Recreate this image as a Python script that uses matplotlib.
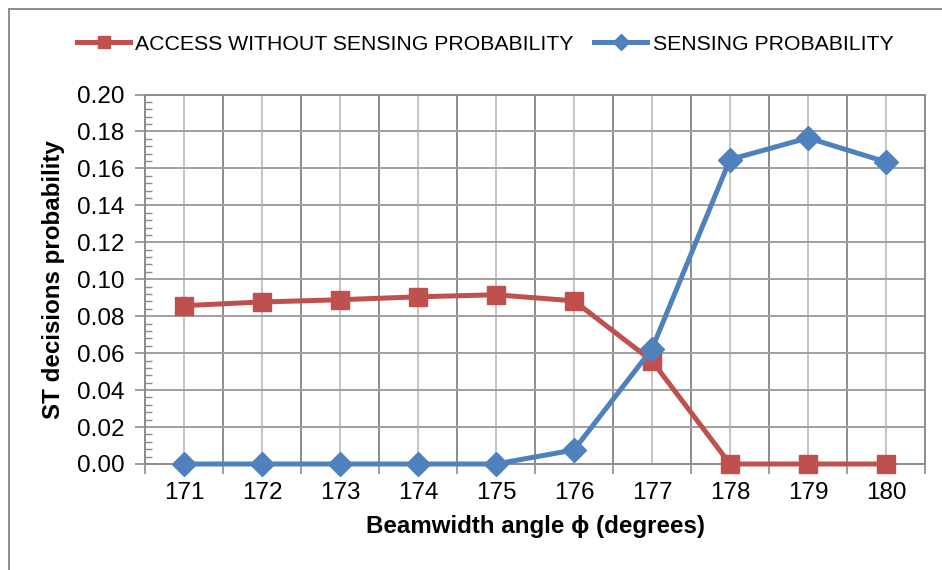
import matplotlib
matplotlib.use("Agg")
import matplotlib.pyplot as plt
from matplotlib.lines import Line2D
from matplotlib.ticker import MultipleLocator, FixedLocator

plt.rcParams["font.family"] = ["Liberation Sans", "DejaVu Sans"]

angles = ["171", "172", "173", "174", "175", "176", "177", "178", "179", "180"]
access_without_sensing = [0.0857, 0.0877, 0.0889, 0.0905, 0.0916, 0.0883, 0.0558, 0.0, 0.0, 0.0]
sensing = [0.0, 0.0, 0.0, 0.0, 0.0, 0.0076, 0.0623, 0.1648, 0.1765, 0.1635]

RED = "#C0504D"
BLUE = "#4F81BD"
GRID_DARK = "#8C8C8C"
GRID_LIGHT = "#C4C4C4"

fig = plt.figure(figsize=(9.42, 5.70), dpi=100)
ax = fig.add_axes([145 / 942, 1 - 464 / 570, 780 / 942, (464 - 94.5) / 570])

x = list(range(len(angles)))
ax.plot(x, access_without_sensing, color=RED, linewidth=3.6, marker="s", markersize=13,
        markeredgecolor=RED, label="ACCESS WITHOUT SENSING PROBABILITY", zorder=3, clip_on=False)
ax.plot(x, sensing, color=BLUE, linewidth=3.6, marker="D", markersize=12,
        markeredgecolor=BLUE, label="SENSING PROBABILITY", zorder=4, clip_on=False)

ax.set_xlim(-0.5, len(angles) - 0.5)
ax.set_ylim(0, 0.20)

# category labels in the middle, dark boundaries between categories
ax.set_xticks(x)
ax.set_xticklabels(angles, fontsize=17.5)
ax.xaxis.set_minor_locator(FixedLocator([i - 0.5 for i in range(len(angles) + 1)]))
ax.tick_params(axis="x", which="major", length=0, pad=13)
ax.tick_params(axis="x", which="minor", length=7, width=1.2, color=GRID_DARK, direction="out")
ax.grid(axis="x", which="major", color=GRID_LIGHT, linewidth=1.4)
ax.grid(axis="x", which="minor", color=GRID_DARK, linewidth=1.4)

ax.yaxis.set_major_locator(MultipleLocator(0.02))
ax.yaxis.set_minor_locator(MultipleLocator(0.004))
ax.yaxis.set_major_formatter(lambda v, p: f"{v:.2f}")
ax.tick_params(axis="y", which="major", length=7, width=1.2, color=GRID_DARK, direction="out",
               labelsize=17.5, pad=8)
ax.tick_params(axis="y", which="minor", length=5, width=1.0, color=GRID_DARK, direction="in")
ax.grid(axis="y", which="major", color="#A0A0A0", linewidth=1.4)
ax.set_axisbelow(True)

for side in ["left", "bottom", "right", "top"]:
    ax.spines[side].set_color(GRID_DARK)
    ax.spines[side].set_linewidth(1.4)

ax.set_xlabel("Beamwidth angle ϕ (degrees)", fontsize=17.4, fontweight="bold", labelpad=8)
ax.set_ylabel("ST decisions probability", fontsize=17.4, fontweight="bold", labelpad=8)

fig.legend(loc="center", bbox_to_anchor=(0.515, 1 - 44 / 570), ncol=2, frameon=False,
           fontsize=15.3, handlelength=2.5, handletextpad=0.25, columnspacing=0.95,
           markerscale=0.7)

# chart frame (only top and left edges visible in the crop)
fig.add_artist(Line2D([9 / 942, 9 / 942], [0, 1 - 9 / 570], transform=fig.transFigure,
                      color="#8C8C8C", linewidth=1.4))
fig.add_artist(Line2D([9 / 942, 1], [1 - 9 / 570, 1 - 9 / 570], transform=fig.transFigure,
                      color="#8C8C8C", linewidth=1.4))

fig.savefig("out.png", dpi=100)
